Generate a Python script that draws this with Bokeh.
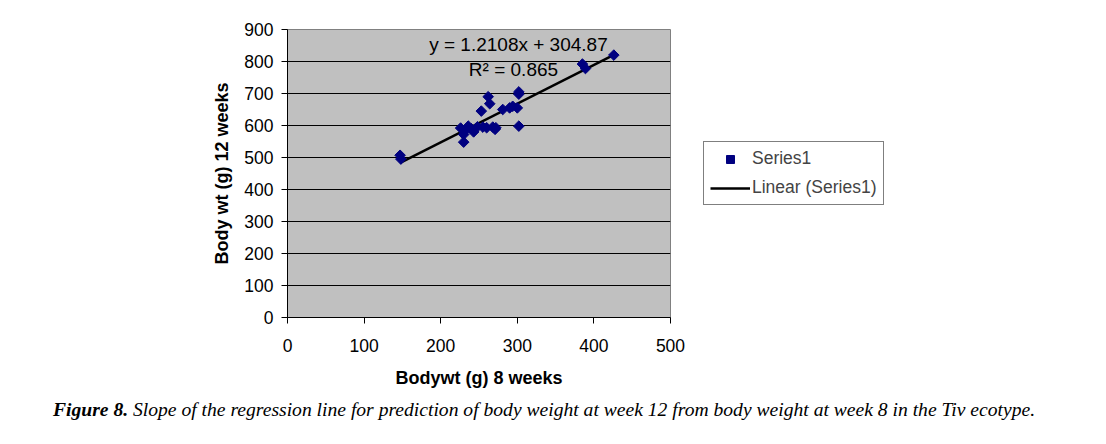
import math
from bokeh.plotting import figure
from bokeh.models import Range1d, FixedTicker, Label, Legend, LegendItem, Div
from bokeh.layouts import column
from bokeh.embed import file_html
from bokeh.resources import INLINE

# ---- data ----
bodywt_8wk = [147, 148, 226, 230, 230, 232, 236, 240, 243, 248, 253, 255, 260, 262,
              264, 268, 271, 272, 281, 290, 294, 300, 302, 302, 302, 385, 389, 426]
bodywt_12wk = [507, 495, 592, 572, 548, 585, 598, 590, 580, 596, 645, 595, 593, 690,
               668, 595, 588, 593, 650, 655, 660, 655, 698, 705, 598, 792, 778, 820]
slope = 1.2108
intercept = 304.87
r_squared = 0.865
x_ticks = [0, 100, 200, 300, 400, 500]
y_ticks = [0, 100, 200, 300, 400, 500, 600, 700, 800, 900]

FONT = "Liberation Sans"
SERIF = "Liberation Serif"

p = figure(width=1090, height=395, output_backend="svg", toolbar_location=None,
           x_range=Range1d(0, 500), y_range=Range1d(0, 900),
           frame_width=383, frame_height=288,
           min_border_left=287, min_border_right=420, min_border_top=29, min_border_bottom=78)

p.background_fill_color = "#C0C0C0"
p.border_fill_color = "white"
p.outline_line_color = "#808080"
p.outline_line_width = 1

p.xgrid.grid_line_color = None
p.ygrid.grid_line_color = "black"
p.ygrid.grid_line_width = 1

for ax in (p.xaxis[0], p.yaxis[0]):
    ax.axis_line_color = "black"
    ax.major_tick_line_color = "black"
    ax.major_tick_out = 6
    ax.major_tick_in = 0
    ax.minor_tick_line_color = None
    ax.major_label_text_font = FONT
    ax.major_label_text_font_size = "17.5px"
    ax.major_label_text_color = "black"
    ax.axis_label_text_font = FONT
    ax.axis_label_text_font_style = "bold"
    ax.axis_label_text_font_size = "18px"
    ax.axis_label_text_color = "black"

p.xaxis.ticker = FixedTicker(ticks=x_ticks)
p.yaxis.ticker = FixedTicker(ticks=y_ticks)
p.xaxis.axis_label = "Bodywt (g) 8 weeks"
p.yaxis.axis_label = "Body wt (g) 12 weeks"
p.xaxis.major_label_standoff = 15
p.yaxis.major_label_standoff = 8
p.xaxis.axis_label_standoff = 13
p.yaxis.axis_label_standoff = 9

# trend line
x0, x1 = min(bodywt_8wk), max(bodywt_8wk)
line_r = p.line([x0, x1], [slope * x0 + intercept, slope * x1 + intercept],
                line_color="black", line_width=2.5)

pts = p.scatter(bodywt_8wk, bodywt_12wk, marker="square", angle=math.pi / 4,
                size=7.5, fill_color="#000080", line_color="#000080")

legend = Legend(items=[LegendItem(label="Series1", renderers=[pts]),
                       LegendItem(label="Linear (Series1)", renderers=[line_r])],
                location="left", orientation="vertical",
                border_line_color="black", border_line_width=1,
                background_fill_color="white", background_fill_alpha=1,
                label_text_font=FONT, label_text_font_size="17.5px",
                glyph_width=40, glyph_height=20, label_height=20,
                label_standoff=2, spacing=8, padding=6, margin=33)
p.add_layout(legend, "right")

p.add_layout(Label(x=301.5, y=853, text=f"y = {slope}x + {intercept}",
                   text_font=FONT, text_font_size="19px", text_align="center",
                   text_baseline="middle", text_color="black"))
p.add_layout(Label(x=295, y=775, text=f"R\u00b2 = {r_squared}",
                   text_font=FONT, text_font_size="19px", text_align="center",
                   text_baseline="middle", text_color="black"))

caption = Div(
    text="<b><i>Figure 8.</i></b><i> Slope of the regression line for prediction of body weight "
         "at week 12 from body weight at week 8 in the Tiv ecotype.</i>",
    width=1045, height=30, margin=(0, 0, 0, 53),
    styles={"font-family": SERIF, "font-size": "19.6px", "color": "black",
            "line-height": "30px", "white-space": "nowrap"})

layout = column(p, caption, spacing=0)
open("out.html", "w").write(file_html(layout, INLINE))
